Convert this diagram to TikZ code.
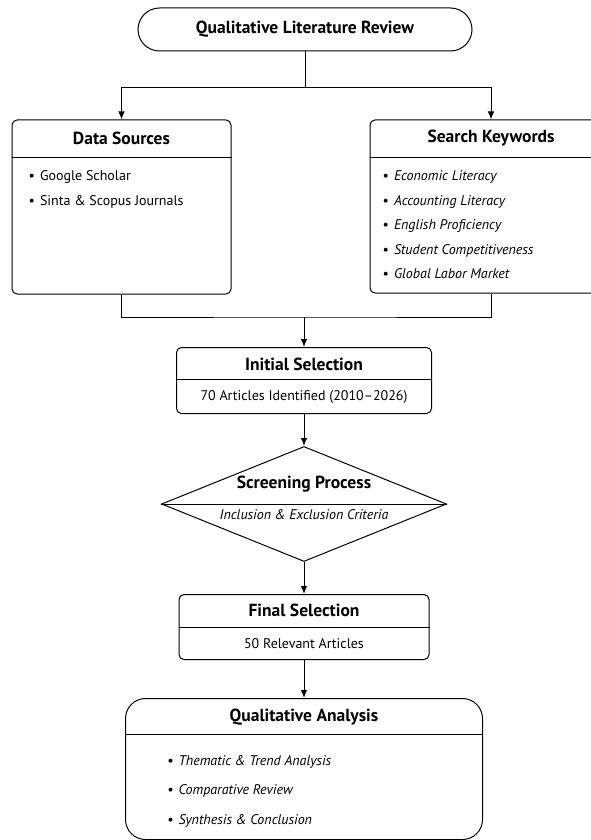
\documentclass[tikz,border=0pt]{standalone}
\usepackage{fontspec}
\setmainfont{PT Sans}
\usetikzlibrary{positioning, shapes.geometric, arrows.meta}

\newcommand{\bul}{\textbullet\hspace{5pt}}

\begin{document}
\begin{tikzpicture}[x=1pt, y=1pt, node distance=32pt,
  box/.style={draw, rounded corners=5pt, line width=1pt, inner sep=0pt},
  head/.style={font=\fontsize{17.5}{20}\selectfont\bfseries},
  sub/.style={font=\fontsize{14}{16}\selectfont},
  list/.style={font=\fontsize{14}{24.5}\selectfont, align=left, anchor=north west, inner sep=0pt},
  line/.style={line width=1pt},
  arr/.style={line width=1pt, -{Latex[length=8pt, width=6.5pt]}}]
  \useasboundingbox (0,0) rectangle (590,-840);

  \node[box, rounded corners=21.5pt, minimum width=334pt, minimum height=43pt, head] (review) at (305,-29.5) {Qualitative Literature Review};

  \node[box, minimum width=219pt, minimum height=174pt] (src) at (121.5,-207) {};
  \node[head] (src head) at ([yshift=-19pt]src.north) {Data Sources};
  \draw[line] ([yshift=-38pt]src.north west) -- ([yshift=-38pt]src.north east);
  \node[list] (src list) at ([xshift=17pt, yshift=-51pt]src.north west) {\bul Google Scholar\\ \bul Sinta \& Scopus Journals};

  \node[box, minimum width=242pt, minimum height=173pt] (kw) at (491,-206.5) {};
  \node[head] (kw head) at ([yshift=-19pt]kw.north) {Search Keywords};
  \draw[line] ([yshift=-38pt]kw.north west) -- ([yshift=-38pt]kw.north east);
  \node[list] (kw list) at ([xshift=13pt, yshift=-51pt]kw.north west) {\bul\textit{Economic Literacy}\\ \bul\textit{Accounting Literacy}\\ \bul\textit{English Proficiency}\\ \bul\textit{Student Competitiveness}\\ \bul\textit{Global Labor Market}};

  \coordinate (split) at ([yshift=-36pt]review.south);
  \coordinate (join) at (304,-317);
  \draw[line] (review) -- (split);
  \draw[arr] (split) -| (src);
  \draw[arr] (split) -| (kw);
  \draw[line] (src.south) |- (join) -| (kw.south);

  \node[box, minimum width=255pt, minimum height=66pt, below=30pt of join] (initial) {};
  \node[head] (initial head) at ([yshift=-17pt]initial.north) {Initial Selection};
  \draw[line] ([yshift=-32pt]initial.north west) -- ([yshift=-32pt]initial.north east);
  \node[sub] (initial sub) at ([yshift=-50pt]initial.north) {70 Articles Identified (2010--2026)};

  \node[draw, diamond, line width=1pt, minimum width=285pt, minimum height=115pt, inner sep=0pt, below=of initial] (screen) {};
  \draw[line] (screen.west) -- (screen.east);
  \node[head] (screen head) at ([yshift=19.5pt]screen.center) {Screening Process};
  \node[sub] (screen sub) at ([yshift=-11pt]screen.center) {\textit{Inclusion \& Exclusion Criteria}};

  \node[box, minimum width=250pt, minimum height=65pt, below=of screen] (final) {};
  \node[head] (final head) at ([yshift=-16pt]final.north) {Final Selection};
  \draw[line] ([yshift=-33pt]final.north west) -- ([yshift=-33pt]final.north east);
  \node[sub] (final sub) at ([yshift=-50pt]final.north) {50 Relevant Articles};

  \node[box, rounded corners=20pt, minimum width=357pt, minimum height=141pt, below=38pt of final] (analysis) {};
  \node[head] (analysis head) at ([yshift=-19pt]analysis.north) {Qualitative Analysis};
  \draw[line] ([yshift=-36pt]analysis.north west) -- ([yshift=-36pt]analysis.north east);
  \node[list, font=\fontsize{14}{29.5}\selectfont\itshape] (analysis list) at ([xshift=42pt, yshift=-57pt]analysis.north west) {\bul Thematic \& Trend Analysis\\ \bul Comparative Review\\ \bul Synthesis \& Conclusion};

  \draw[arr] (join) -- (initial);
  \draw[arr] (initial) -- (screen);
  \draw[arr] (screen) -- (final);
  \draw[arr] (final) -- (analysis);
\end{tikzpicture}
\end{document}
